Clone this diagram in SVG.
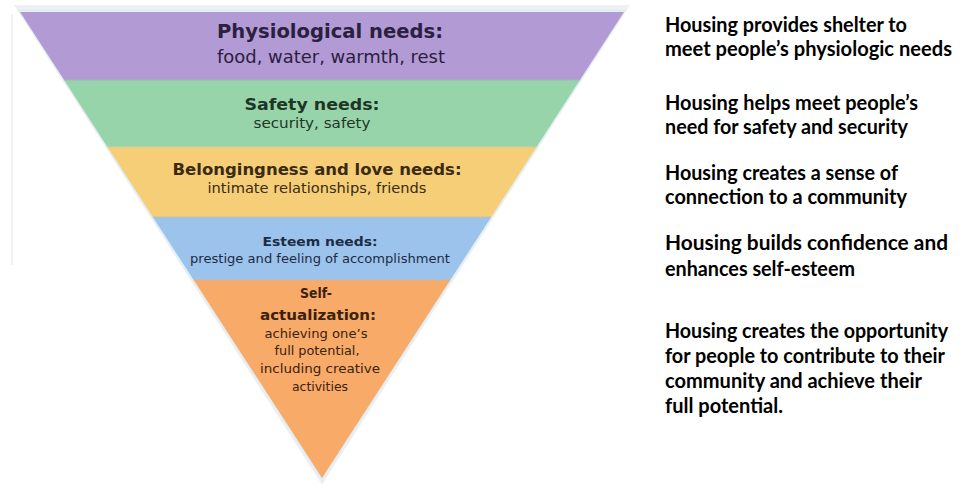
<svg xmlns="http://www.w3.org/2000/svg" width="961" height="490" viewBox="0 0 961 490">
<style>
.h{font-family:"DejaVu Sans","Liberation Sans",sans-serif;font-weight:bold;text-anchor:middle}
.r{font-family:"DejaVu Sans","Liberation Sans",sans-serif;text-anchor:middle}
.t{font-family:Lato,"Liberation Sans",sans-serif;font-weight:bold;font-size:20px;fill:#000}
.sep{stroke-width:1.2;fill:none}
</style>
<rect width="961" height="490" fill="#ffffff"/>
<line x1="12" y1="14" x2="12" y2="265" stroke="#ececec" stroke-width="1.5"/>
<g id="pyramid">
<polygon points="14,5 630,5 322,485" fill="#eef1f4"/>
<polygon points="17,9 627,9 322,482" fill="#e4edf1"/>
</g>
<g id="physiological">
<polygon points="20,12 624,12 579.9,80 64.1,80" fill="#b29ad5"/>
<text class="h" x="330" y="38" font-size="19" fill="#2b2040" textLength="226" lengthAdjust="spacingAndGlyphs">Physiological needs:</text>
<text class="r" x="331" y="63" font-size="17" fill="#2b2040" textLength="228" lengthAdjust="spacingAndGlyphs">food, water, warmth, rest</text>
</g>
<g id="safety">
<polygon points="64.1,80 579.9,80 536.5,147 107.5,147" fill="#98d4aa"/>
<text class="h" x="312" y="110" font-size="16" fill="#1f3526" textLength="135" lengthAdjust="spacingAndGlyphs">Safety needs:</text>
<text class="r" x="312" y="128" font-size="14" fill="#1f3526" textLength="117" lengthAdjust="spacingAndGlyphs">security, safety</text>
</g>
<g id="belonging">
<polygon points="107.5,147 536.5,147 491.2,217 152.8,217" fill="#f6ce78"/>
<text class="h" x="317" y="175" font-size="15.5" fill="#3a2b12" textLength="289" lengthAdjust="spacingAndGlyphs">Belongingness and love needs:</text>
<text class="r" x="317" y="193" font-size="13.5" fill="#3a2b12" textLength="219" lengthAdjust="spacingAndGlyphs">intimate relationships, friends</text>
</g>
<g id="esteem">
<polygon points="152.8,217 491.2,217 450.3,280 193.7,280" fill="#9bc3ec"/>
<text class="h" x="320" y="246" font-size="13" fill="#1e2b45" textLength="115" lengthAdjust="spacingAndGlyphs">Esteem needs:</text>
<text class="r" x="320" y="263" font-size="12" fill="#1e2b45" textLength="260" lengthAdjust="spacingAndGlyphs">prestige and feeling of accomplishment</text>
</g>
<g id="self-actualization">
<polygon points="193.7,280 450.3,280 322,478" fill="#f8aa68"/>
<text class="h" x="316" y="298" font-size="14" fill="#3a220f" textLength="32" lengthAdjust="spacingAndGlyphs">Self-</text>
<text class="h" x="318" y="320" font-size="14" fill="#3a220f" textLength="116" lengthAdjust="spacingAndGlyphs">actualization:</text>
<text class="r" x="316" y="338" font-size="12.5" fill="#3a220f" textLength="103" lengthAdjust="spacingAndGlyphs">achieving one’s</text>
<text class="r" x="317" y="355" font-size="12.5" fill="#3a220f" textLength="85" lengthAdjust="spacingAndGlyphs">full potential,</text>
<text class="r" x="320" y="373" font-size="12.5" fill="#3a220f" textLength="120" lengthAdjust="spacingAndGlyphs">including creative</text>
<text class="r" x="320" y="391" font-size="12.5" fill="#3a220f" textLength="56" lengthAdjust="spacingAndGlyphs">activities</text>
</g>
<g id="separators">
<line class="sep" x1="64.1" y1="80" x2="579.9" y2="80" stroke="#9fb7b0"/>
<line class="sep" x1="107.5" y1="147" x2="536.5" y2="147" stroke="#c9d39a"/>
<line class="sep" x1="152.8" y1="217" x2="491.2" y2="217" stroke="#c8c2a8"/>
<line class="sep" x1="193.7" y1="280" x2="450.3" y2="280" stroke="#d6b49a"/>
</g>
<g id="descriptions">
<text class="t" x="665" y="32" textLength="242" lengthAdjust="spacingAndGlyphs">Housing provides shelter to</text>
<text class="t" x="665" y="56" textLength="287" lengthAdjust="spacingAndGlyphs">meet people’s physiologic needs</text>
<text class="t" x="665" y="110" textLength="253" lengthAdjust="spacingAndGlyphs">Housing helps meet people’s</text>
<text class="t" x="665" y="134" textLength="243" lengthAdjust="spacingAndGlyphs">need for safety and security</text>
<text class="t" x="665" y="180" textLength="233" lengthAdjust="spacingAndGlyphs">Housing creates a sense of</text>
<text class="t" x="665" y="204" textLength="242" lengthAdjust="spacingAndGlyphs">connection to a community</text>
<text class="t" x="665" y="250" textLength="283" lengthAdjust="spacingAndGlyphs">Housing builds confidence and</text>
<text class="t" x="665" y="276" textLength="190" lengthAdjust="spacingAndGlyphs">enhances self-esteem</text>
<text class="t" x="665" y="338" textLength="283" lengthAdjust="spacingAndGlyphs">Housing creates the opportunity</text>
<text class="t" x="665" y="363" textLength="280" lengthAdjust="spacingAndGlyphs">for people to contribute to their</text>
<text class="t" x="665" y="388" textLength="257" lengthAdjust="spacingAndGlyphs">community and achieve their</text>
<text class="t" x="665" y="413" textLength="118" lengthAdjust="spacingAndGlyphs">full potential.</text>
</g>
</svg>
